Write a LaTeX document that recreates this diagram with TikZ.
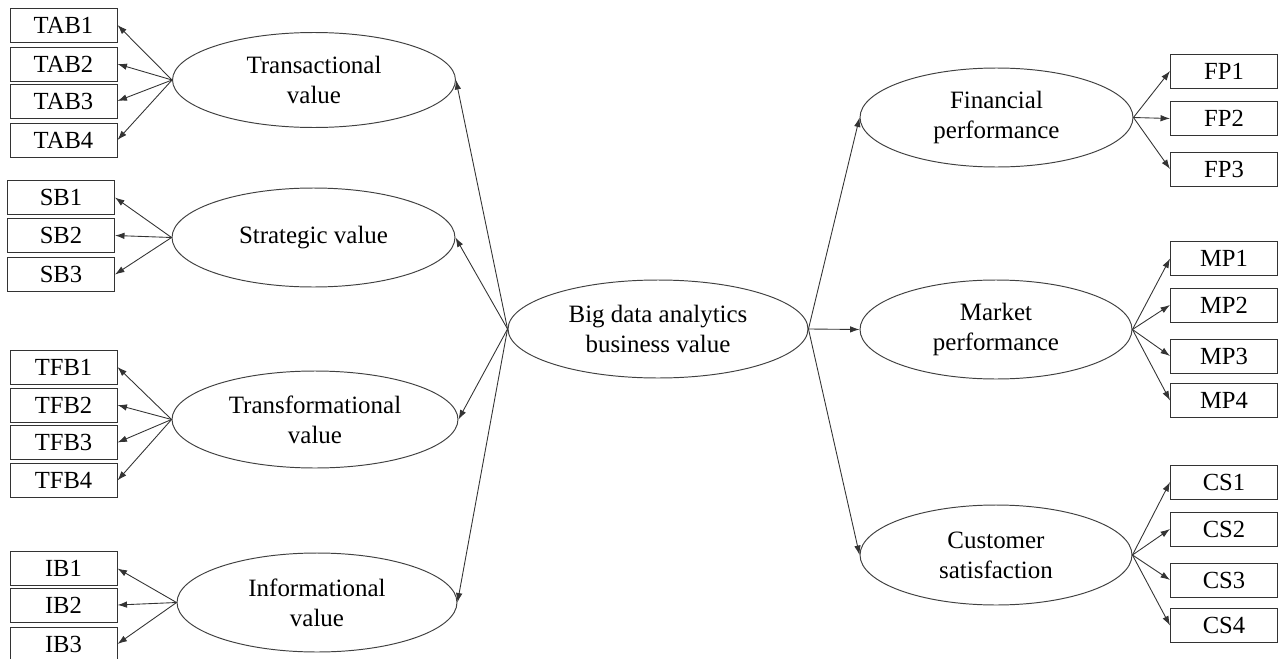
\documentclass[tikz,border=0pt]{standalone}
\usepackage{fontspec}
\setmainfont{Liberation Serif}
\usetikzlibrary{shapes.geometric, arrows.meta}

\tikzset{
  latent/.style={ellipse, draw=black!75, line width=0.55pt, inner sep=0pt,
    align=center, font=\fontsize{14.2pt}{17pt}\selectfont},
  item/.style={rectangle, draw=black!80, line width=0.55pt, inner sep=0pt,
    minimum width=2.14cm, minimum height=0.68cm, font=\fontsize{14pt}{16pt}\selectfont},
  path/.style={draw=black!80, line width=0.5pt, -{Latex[length=1.9mm,width=1.3mm]}}
}

\begin{document}
\begin{tikzpicture}[x=0.02cm, y=-0.02cm]
  \useasboundingbox (0,0) rectangle (1279,659);

  % Central construct
  \node[latent, minimum width=6cm, minimum height=1.96cm] (bda) at (658,329)
    {Big data analytics\\business value};

  % Left constructs
  \node[latent, minimum width=5.66cm, minimum height=1.9cm] (tv) at (314,80)
    {Transactional\\value};
  \node[latent, minimum width=5.66cm, minimum height=1.98cm] (sv) at (313.5,237.5)
    {Strategic value};
  \node[latent, minimum width=5.72cm, minimum height=1.94cm] (tfv) at (315,419.5)
    {Transformational\\value};
  \node[latent, minimum width=5.6cm, minimum height=1.98cm] (iv) at (317,602.5)
    {Informational\\value};

  % Right constructs
  \node[latent, minimum width=5.46cm, minimum height=1.98cm] (fp) at (996.5,117.5)
    {Financial\\performance};
  \node[latent, minimum width=5.44cm, minimum height=1.98cm] (mp) at (996,329.5)
    {Market\\performance};
  \node[latent, minimum width=5.44cm, minimum height=2cm] (cs) at (996,555)
    {Customer\\satisfaction};

  % Indicators, left
  \foreach \i/\y in {1/25, 2/64, 3/101, 4/140}
    \node[item] (tab\i) at (63.5,\y) {TAB\i};
  \foreach \i/\y in {1/197.5, 2/235.5, 3/274.5}
    \node[item] (sb\i) at (61,\y) {SB\i};
  \foreach \i/\y in {1/367, 2/405, 3/442.5, 4/480.5}
    \node[item] (tfb\i) at (63.5,\y) {TFB\i};
  \foreach \i/\y in {1/568.5, 2/605, 3/644}
    \node[item] (ib\i) at (63.5,\y) {IB\i};

  % Indicators, right
  \foreach \i/\y in {1/71, 2/118.5, 3/169}
    \node[item] (fpi\i) at (1224,\y) {FP\i};
  \foreach \i/\y in {1/258.5, 2/305, 3/356, 4/400.5}
    \node[item] (mpi\i) at (1224,\y) {MP\i};
  \foreach \i/\y in {1/482, 2/529, 3/580, 4/625.5}
    \node[item] (csi\i) at (1224,\y) {CS\i};

  % Structural paths
  \foreach \t in {tv, sv, tfv, iv}
    \draw[path] (bda.west) -- (\t.east);
  \foreach \t in {fp, mp, cs}
    \draw[path] (bda.east) -- (\t.west);

  % Measurement paths
  \foreach \i in {1,...,4} \draw[path] (tv.west) -- (tab\i.east);
  \foreach \i in {1,...,3} \draw[path] (sv.west) -- (sb\i.east);
  \foreach \i in {1,...,4} \draw[path] (tfv.west) -- (tfb\i.east);
  \foreach \i in {1,...,3} \draw[path] (iv.west) -- (ib\i.east);
  \foreach \i in {1,...,3} \draw[path] (fp.east) -- (fpi\i.west);
  \foreach \i in {1,...,4} \draw[path] (mp.east) -- (mpi\i.west);
  \foreach \i in {1,...,4} \draw[path] (cs.east) -- (csi\i.west);
\end{tikzpicture}
\end{document}
